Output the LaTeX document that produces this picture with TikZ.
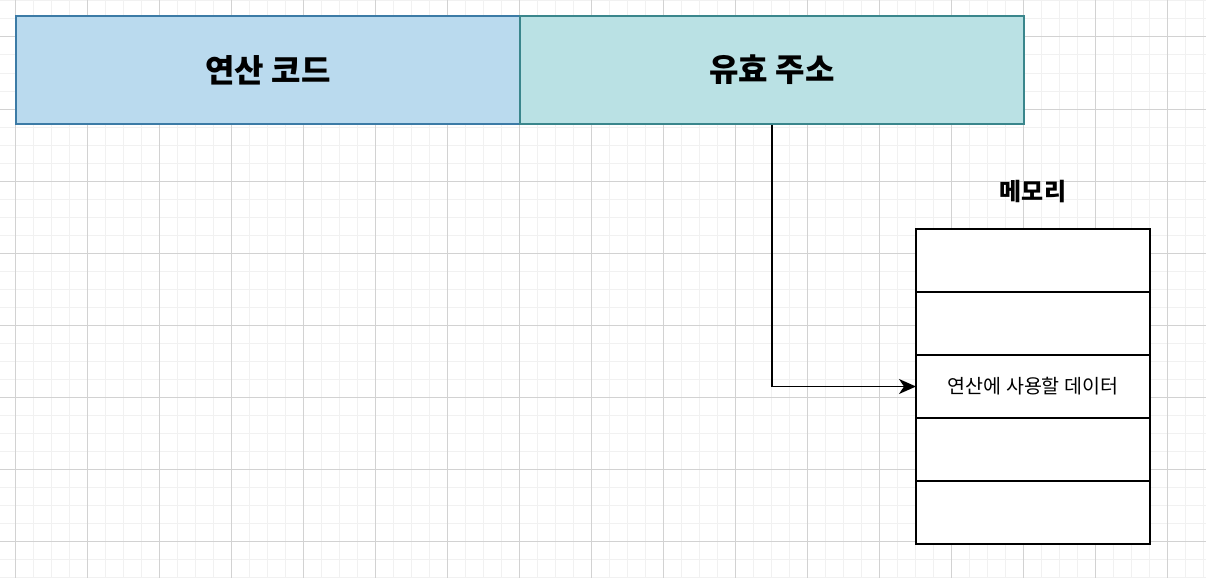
\documentclass[tikz,border=0pt]{standalone}
\usepackage{fontspec}
\setmainfont{Noto Sans CJK KR}
\usepackage{tikz}
\usetikzlibrary{positioning,arrows.meta}

\definecolor{opfill}{HTML}{BADAEE}
\definecolor{opline}{HTML}{3C7BA6}
\definecolor{adfill}{HTML}{BAE1E4}
\definecolor{adline}{HTML}{3A868C}
\definecolor{minorcol}{HTML}{F1F1F1}
\definecolor{majorcol}{HTML}{D2D2D2}

\begin{document}
\begin{tikzpicture}[x=1pt, y=-1pt,
  field/.style={draw, line width=1.5pt, minimum width=504pt, minimum height=108pt, inner sep=0pt, font=\fontsize{32}{36}\selectfont\bfseries},
  cell/.style={draw, line width=1.3pt, fill=white, minimum width=234pt, minimum height=63pt, inner sep=0pt, outer sep=0pt, font=\fontsize{19.5}{22}\selectfont}]
\useasboundingbox (0,0) rectangle (1206,578);
\fill[white] (0,0) rectangle (1206,578);
% grid
\foreach \i in {0,...,67} \draw[minorcol, line width=1pt] (-3+18*\i,0) -- (-3+18*\i,578);
\foreach \j in {0,...,32} \draw[minorcol, line width=1pt] (0,1+18*\j) -- (1206,1+18*\j);
\foreach \i in {0,...,16} \draw[majorcol, line width=1pt] (15+72*\i,0) -- (15+72*\i,578);
\foreach \j in {0,...,7} \draw[majorcol, line width=1pt] (0,37+72*\j) -- (1206,37+72*\j);

\node[field, fill=opfill, draw=opline] (opcode) at (268,70) {연산 코드};
\node[field, fill=adfill, draw=adline] (address) at (772,70) {유효 주소};

\node[cell] (mem1) at (1033,260.5) {};
\node[cell, below=0pt of mem1] (mem2) {};
\node[cell, below=0pt of mem2] (mem3) {연산에 사용할 데이터};
\node[cell, below=0pt of mem3] (mem4) {};
\node[cell, below=0pt of mem4] (mem5) {};
\node[font=\fontsize{24}{28}\selectfont\bfseries] (memory) at (1033,192) {메모리};

\draw[-{Stealth[length=17pt,width=15pt,inset=5pt]}, line width=1.4pt] (address.south) |- (mem3.west);
\end{tikzpicture}
\end{document}
